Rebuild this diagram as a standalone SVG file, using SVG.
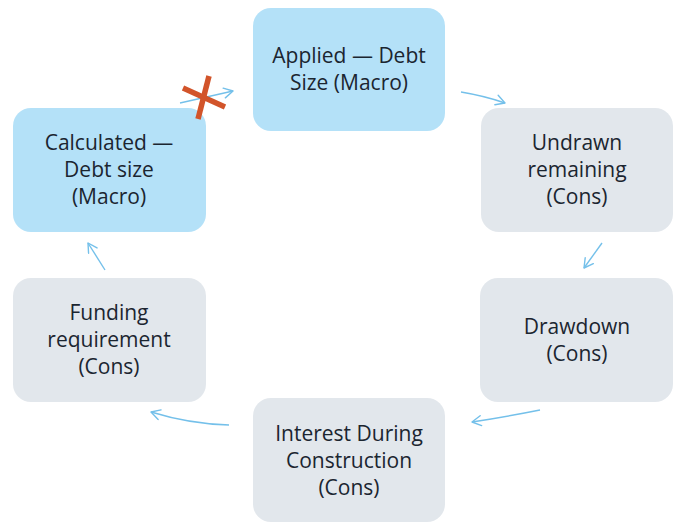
<svg xmlns="http://www.w3.org/2000/svg" width="679" height="525" viewBox="0 0 679 525">
<defs>
<marker id="ah" viewBox="0 0 12 12" refX="10" refY="6" markerWidth="12" markerHeight="12" markerUnits="userSpaceOnUse" orient="auto">
<path d="M1,1 L10,6 L1,11" fill="none" stroke="#74c0ea" stroke-width="1.4" stroke-linecap="round" stroke-linejoin="round"/>
</marker>
<style>
.blue{fill:#b4e1f8}
.grey{fill:#e2e7ec}
.t{font-family:"Open Sans","Liberation Sans",sans-serif;font-size:21px;fill:#1b2530;text-anchor:middle}
.c{fill:none;stroke:#74c0ea;stroke-width:1.4;marker-end:url(#ah)}
.x{stroke:#d2542a;stroke-width:5.5;stroke-linecap:butt}
</style>
</defs>
<rect width="679" height="525" fill="#ffffff"/>
<g id="connectors">
<path class="c" d="M180,103 L233,91"/>
<path class="c" d="M461,92 Q485,96 505,103"/>
<path class="c" d="M602,243 L584,268"/>
<path class="c" d="M540,410 Q505,417 472,422"/>
<path class="c" d="M229,425 Q190,424 151,412"/>
<path class="c" d="M105,270 L88,243"/>
</g>
<g id="node-applied">
<rect class="blue" x="253" y="8" width="192" height="123" rx="18"/>
<text class="t" x="349" y="63">Applied — Debt</text>
<text class="t" x="349" y="90">Size (Macro)</text>
</g>
<g id="node-undrawn">
<rect class="grey" x="481" y="108" width="192" height="124" rx="18"/>
<text class="t" x="577" y="150">Undrawn</text>
<text class="t" x="577" y="177">remaining</text>
<text class="t" x="577" y="204">(Cons)</text>
</g>
<g id="node-drawdown">
<rect class="grey" x="480" y="278" width="193" height="124" rx="18"/>
<text class="t" x="577" y="334">Drawdown</text>
<text class="t" x="577" y="361">(Cons)</text>
</g>
<g id="node-interest">
<rect class="grey" x="253" y="398" width="192" height="124" rx="18"/>
<text class="t" x="349" y="441">Interest During</text>
<text class="t" x="349" y="468">Construction</text>
<text class="t" x="349" y="495">(Cons)</text>
</g>
<g id="node-funding">
<rect class="grey" x="13" y="278" width="193" height="124" rx="18"/>
<text class="t" x="109" y="320">Funding</text>
<text class="t" x="109" y="347">requirement</text>
<text class="t" x="109" y="374">(Cons)</text>
</g>
<g id="node-calculated">
<rect class="blue" x="13" y="108" width="193" height="124" rx="18"/>
<text class="t" x="109" y="150">Calculated —</text>
<text class="t" x="109" y="177">Debt size</text>
<text class="t" x="109" y="204">(Macro)</text>
</g>
<g id="cross-mark">
<line class="x" x1="183" y1="88" x2="225" y2="107"/>
<line class="x" x1="209" y1="76" x2="198" y2="119"/>
</g>
</svg>
